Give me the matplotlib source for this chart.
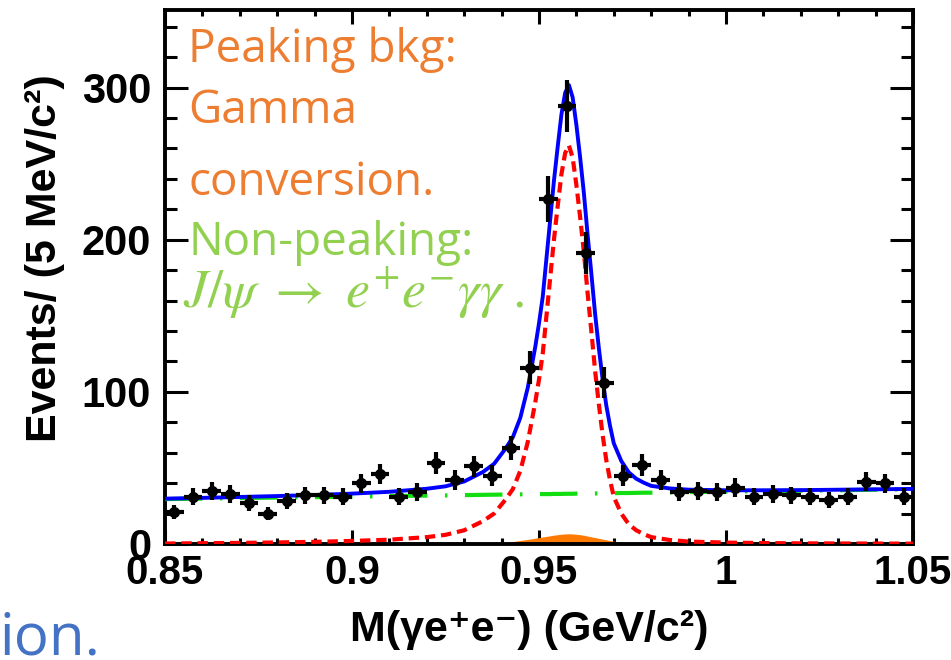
import numpy as np
import matplotlib
matplotlib.use("Agg")
import matplotlib.pyplot as plt
from matplotlib.ticker import MultipleLocator

plt.rcParams['mathtext.fontset'] = 'stix'

# binned data: 5 MeV bins from 0.85 to 1.05 GeV
bin_lo = 0.85
bin_w = 0.005
counts = [21, 31, 35, 33, 27, 20, 28, 32, 32, 31,
          40, 46, 31, 34, 53, 42, 51, 45, 63, 116,
          227, 288, 191, 106, 45, 52, 42, 34, 35, 34,
          37, 31, 33, 32, 31, 29, 31, 41, 40, 31]

# fit components sampled along the mass axis
m_fit = [0.850, 0.860, 0.870, 0.880, 0.890, 0.900, 0.910, 0.920, 0.925, 0.930,
         0.935, 0.938, 0.941, 0.943, 0.945, 0.947, 0.949,
         0.950, 0.951, 0.952, 0.953, 0.954, 0.955, 0.956, 0.957, 0.958, 0.959,
         0.960, 0.961, 0.962, 0.963, 0.964, 0.965, 0.966, 0.967, 0.968, 0.969, 0.970,
         0.972, 0.974, 0.976, 0.978, 0.980, 0.985, 0.990, 1.000, 1.010, 1.020, 1.035, 1.050]
sig_fit = [0.3, 0.5, 0.7, 1.0, 1.4, 2.0, 2.8, 4.5, 6, 9,
           15, 20, 29, 36, 48, 67, 93,
           108, 125, 150, 175, 200, 222, 243, 257, 262, 254,
           236, 215, 192, 165, 140, 114, 92, 72, 55, 42, 31,
           20, 13, 9, 6.5, 4.5, 2.6, 1.6, 0.9, 0.6, 0.4, 0.3, 0.2]
peak_fit = [0, 0, 0, 0, 0, 0, 0, 0, 0, 0,
            0, 0.3, 1.0, 1.6, 2.3, 3.0, 3.8,
            4.2, 4.6, 5.0, 5.4, 5.8, 6.1, 6.4, 6.6, 6.7, 6.6,
            6.4, 6.1, 5.7, 5.2, 4.7, 4.2, 3.7, 3.2, 2.7, 2.2, 1.8,
            1.1, 0.6, 0.3, 0.1, 0, 0, 0, 0, 0, 0, 0, 0]
bkg_fit = [29.5, 29.8, 30.2, 30.5, 30.8, 31.1, 31.5, 31.8, 31.9, 32.1,
           32.3, 32.4, 32.5, 32.5, 32.6, 32.7, 32.7,
           32.8, 32.8, 32.8, 32.8, 32.9, 32.9, 32.9, 33.0, 33.0, 33.0,
           33.1, 33.1, 33.1, 33.2, 33.2, 33.2, 33.3, 33.3, 33.3, 33.4, 33.4,
           33.5, 33.5, 33.6, 33.7, 33.7, 33.9, 34.1, 34.4, 34.7, 35.0, 35.5, 36.0]

xticks = [0.85, 0.9, 0.95, 1.0, 1.05]
xticklabels = ['0.85', '0.9', '0.95', '1', '1.05']
yticks = [0, 100, 200, 300]

counts = np.array(counts, dtype=float)
centers = bin_lo + bin_w * (np.arange(len(counts)) + 0.5)
m_fit = np.array(m_fit)
sig_fit = np.array(sig_fit)
peak_fit = np.array(peak_fit)
bkg_fit = np.array(bkg_fit)
total_fit = sig_fit + peak_fit + bkg_fit

fig = plt.figure(figsize=(9.51, 6.60), dpi=100)
ax = fig.add_axes([0.1735, 0.1758, 0.7865, 0.809])

ax.fill_between(m_fit, 0, peak_fit, color='#FF7A00', lw=0, zorder=2)
ax.plot(m_fit, bkg_fit, color='#11DD11', lw=3.0, dashes=[9, 4.2, 0.6, 4.2], zorder=3)
ax.plot(m_fit, sig_fit, color='#FF0000', lw=3.0, dashes=[2.5, 1.4], zorder=4)
ax.plot(m_fit, total_fit, color='#0000FF', lw=2.8, zorder=5)
ax.errorbar(centers, counts, yerr=np.sqrt(counts), xerr=bin_w / 2, fmt='o',
            color='black', ms=7, elinewidth=3.0, capsize=0, zorder=6)

ax.set_xlim(0.85, 1.05)
ax.set_ylim(0, 351)
ax.set_xticks(xticks)
ax.set_xticklabels(xticklabels)
ax.set_yticks(yticks)
ax.xaxis.set_minor_locator(MultipleLocator(0.01))
ax.yaxis.set_minor_locator(MultipleLocator(20))

for s in ax.spines.values():
    s.set_linewidth(2.8)
ax.tick_params(axis='x', which='major', direction='in', length=10, width=2.2,
               top=True, pad=7)
ax.tick_params(axis='x', which='minor', direction='in', length=4.6, width=2.2, top=True)
ax.tick_params(axis='y', which='major', direction='in', length=16.5, width=2.2,
               right=True, pad=10)
ax.tick_params(axis='y', which='minor', direction='in', length=8.6, width=2.2, right=True)
for lab in ax.get_xticklabels() + ax.get_yticklabels():
    lab.set_fontfamily('Liberation Sans')
    lab.set_fontweight('bold')
    lab.set_fontsize(29)
for lab in ax.get_yticklabels():
    lab.set_fontsize(30)

ax.set_xlabel('M(γe⁺e⁻) (GeV/c²)', fontsize=31, fontweight='bold',
              family=['Liberation Sans', 'DejaVu Sans'])
ax.xaxis.set_label_coords(0.487, -0.123)
ax.set_ylabel('Events/ (5 MeV/c²)', fontsize=31, fontweight='bold',
              family=['Liberation Sans', 'DejaVu Sans'])
ax.yaxis.set_label_coords(-0.134, 0.535)

# annotations
orange = '#ED7D31'
green = '#92D050'
fig.text(0.198, 0.906, 'Peaking bkg:', color=orange, fontsize=33, family='Open Sans', va='baseline')
fig.text(0.198, 0.8136, 'Gamma', color=orange, fontsize=33, family='Open Sans', va='baseline')
fig.text(0.198, 0.7045, 'conversion.', color=orange, fontsize=33, family='Open Sans', va='baseline')
fig.text(0.198, 0.6136, 'Non-peaking:', color=green, fontsize=33, family='Open Sans', va='baseline')
fig.text(0.192, 0.5333, r'$J/\psi\ \rightarrow\ e^{+}e^{-}\gamma\gamma\;.$', color=green,
         fontsize=39, va='baseline')
fig.text(0.0, 0.008, 'ion.', color='#4472C4', fontsize=42, family='Open Sans', va='baseline')

fig.savefig('out.png', dpi=100)
